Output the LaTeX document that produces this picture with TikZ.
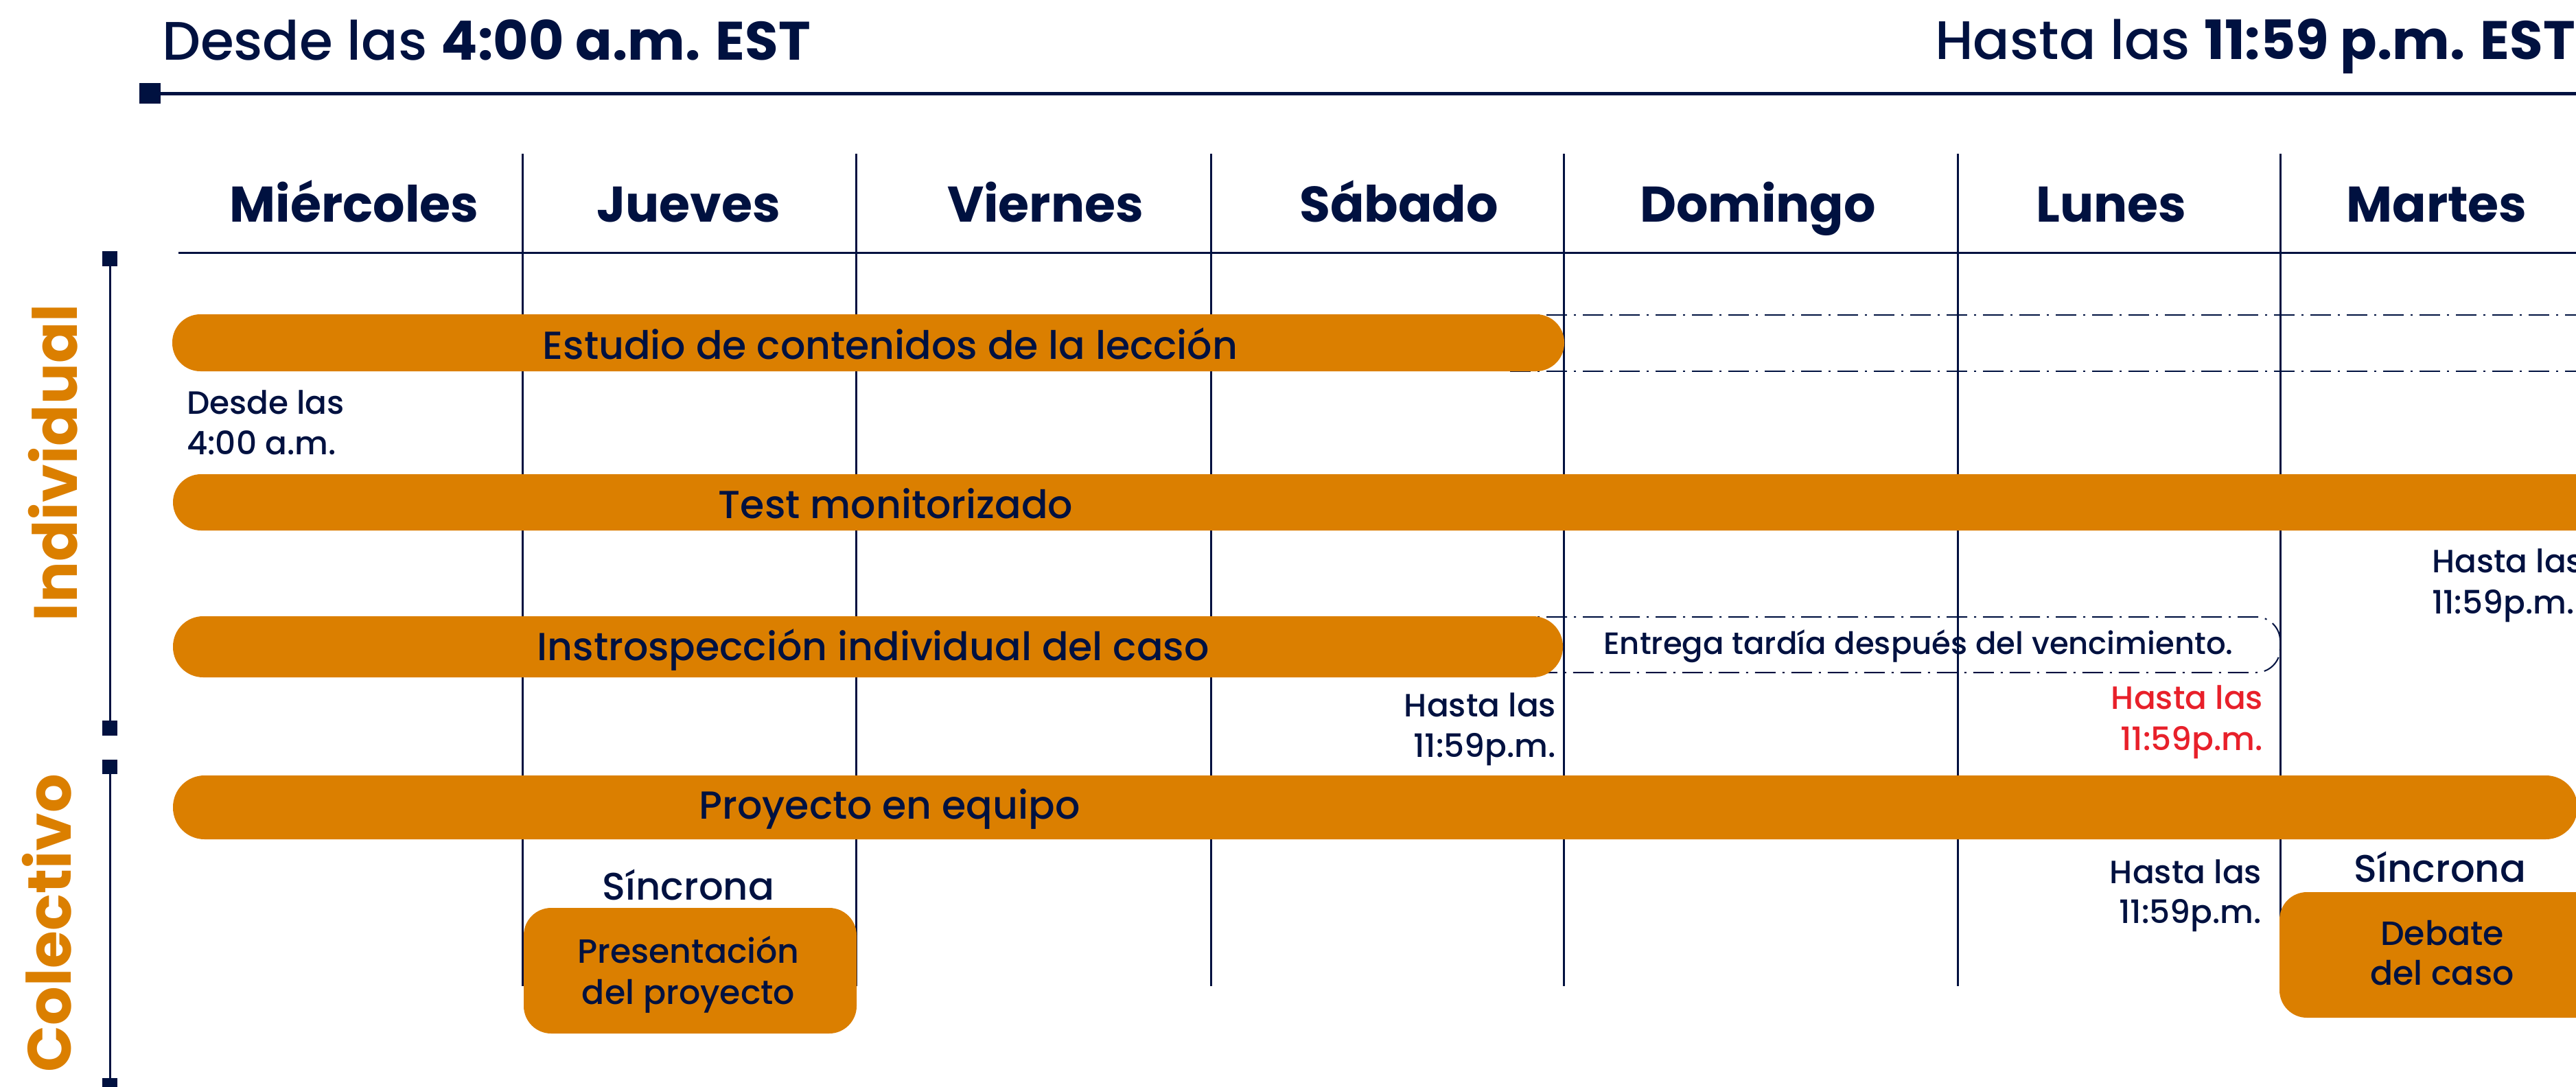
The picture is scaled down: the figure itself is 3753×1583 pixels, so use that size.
\documentclass[tikz,border=0pt]{standalone}
\usepackage{fontspec}
\IfFontExistsTF{Poppins Medium}{\def\myreg{Poppins Medium}}{\def\myreg{Poppins}}
\IfFontExistsTF{Poppins SemiBold}{\def\mybf{Poppins SemiBold}}{\def\mybf{Poppins Bold}}
\setmainfont{\myreg}[BoldFont=\mybf]
\newfontfamily\popfam{Poppins}
\definecolor{navy}{RGB}{0,17,64}
\definecolor{orng}{RGB}{219,127,0}
\definecolor{redt}{RGB}{232,32,42}
\tikzset{
  gridline/.style={draw=navy, line width=3pt},
  barfill/.style={fill=orng, draw=none},
  ddline/.style={draw=navy, line width=2pt, dash pattern=on 30pt off 10pt on 3pt off 10pt},
  titletxt/.style={font=\fontsize{79}{90}\selectfont},
  daytxt/.style={font=\fontsize{73}{80}\selectfont\popfam\bfseries, anchor=base},
  bartxt/.style={font=\fontsize{57}{65}\selectfont, anchor=base},
  smtxt/.style={font=\fontsize{47}{55}\selectfont},
  synctxt/.style={font=\fontsize{56}{62}\selectfont, anchor=base},
  boxtxt/.style={font=\fontsize{49}{55}\selectfont, anchor=base},
  sectxt/.style={font=\fontsize{89}{95}\selectfont\popfam\bfseries, text=orng, rotate=90, anchor=base},
  marker/.style={fill=navy, draw=none},
}
\newcommand{\boldpart}[1]{{\popfam\bfseries #1}}
\begin{document}
\begin{tikzpicture}[x=1pt,y=-1pt, every node/.style={inner sep=0pt, outer sep=0pt, text=navy}]
\useasboundingbox (0,0) rectangle (3753,1583);
\clip (0,0) rectangle (3753,1583);
\fill[white] (0,0) rectangle (3753,1583);

% titles
\node[titletxt, anchor=base west] (tleft) at (236,87) {Desde las \boldpart{4:00 a.m. EST}};
\node[titletxt, anchor=base east] (tright) at (3752,86) {Hasta las \boldpart{11:59 p.m. EST}};
\fill[marker] (203,121) rectangle (234,151);
\draw[navy, line width=5pt] (234,136) -- (3770,136);

% grid
\foreach \x in {761,1247,1764,2278,2852,3322} \draw[gridline] (\x,224) -- (\x,1437);
\draw[navy, line width=3pt] (260,368) -- (3770,368);

% day headers
\node[daytxt] (dmi) at (516,323) {Miércoles};
\node[daytxt] (dju) at (1003,323) {Jueves};
\node[daytxt] (dvi) at (1523,323) {Viernes};
\node[daytxt] (dsa) at (2038,323) {Sábado};
\node[daytxt] (ddo) at (2561,323) {Domingo};
\node[daytxt] (dlu) at (3076,323) {Lunes};
\node[daytxt] (dma) at (3550,323) {Martes};

% dash-dot extensions
\draw[ddline] (2200,459) -- (3770,459);
\draw[ddline] (2200,541) -- (3770,541);
\draw[ddline, rounded corners=35pt] (2200,899) -- (3322,899) -- (3322,980) -- (2200,980);

% bars
\fill[barfill, rounded corners=41pt] (251,458) rectangle (2279,541);
\fill[barfill, rounded corners=41pt] (252,691) rectangle (3850,773);
\fill[barfill, rounded corners=44pt] (252,898) rectangle (2277,987);
\fill[barfill, rounded corners=46pt] (252,1130) rectangle (3755,1223);

\node[bartxt] (b1) at (1297,523) {Estudio de contenidos de la lección};
\node[bartxt] (b2) at (1305,755) {Test monitorizado};
\node[bartxt] (b3) at (1272,962) {Instrospección individual del caso};
\node[bartxt] (b4) at (1296,1193) {Proyecto en equipo};

\node[font=\fontsize{45}{50}\selectfont, anchor=base] (late) at (2795,953) {Entrega tardía después del vencimiento.};

% small notes
\node[smtxt, anchor=base west] (ds1) at (272,603) {Desde las};
\node[smtxt, anchor=base west] (ds2) at (272,662) {4:00 a.m.};
\node[smtxt, anchor=base east] (hs1) at (2267,1044) {Hasta las};
\node[smtxt, anchor=base east] (hs2) at (2267,1103) {11:59p.m.};
\node[smtxt, anchor=base east, text=redt] (hr1) at (3297,1033) {Hasta las};
\node[smtxt, anchor=base east, text=redt] (hr2) at (3297,1093) {11:59p.m.};
\node[smtxt, anchor=base east] (hl1) at (3295,1287) {Hasta las};
\node[smtxt, anchor=base east] (hl2) at (3295,1345) {11:59p.m.};
\node[smtxt, anchor=base west] (hm1) at (3543,834) {Hasta las};
\node[smtxt, anchor=base west] (hm2) at (3543,894) {11:59p.m.};

% synchronous sessions
\node[synctxt] (sj) at (1003,1311) {Síncrona};
\node[synctxt] (sm) at (3555,1285) {Síncrona};
\fill[barfill, rounded corners=40pt] (763,1323) rectangle (1248,1506);
\node[boxtxt] (pj1) at (1003,1403) {Presentación};
\node[boxtxt] (pj2) at (1003,1463) {del proyecto};
\fill[barfill, rounded corners=40pt] (3321,1300) rectangle (3800,1483);
\node[boxtxt] (dc1) at (3558,1377) {Debate};
\node[boxtxt] (dc2) at (3558,1435) {del caso};

% section brackets
\draw[navy, line width=3pt] (160,377) -- (160,1061);
\fill[marker] (149,366) rectangle (171,388);
\fill[marker] (149,1050) rectangle (171,1072);
\draw[navy, line width=3pt] (160,1118) -- (160,1590);
\fill[marker] (149,1107) rectangle (171,1128);
\fill[marker] (149,1571) rectangle (171,1593);
\node[sectxt] (sind) at (112,674) {Individual};
\node[sectxt] (scol) at (103,1345) {Colectivo};
\end{tikzpicture}
\end{document}
